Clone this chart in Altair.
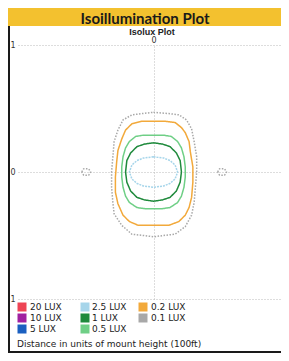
import altair as alt
import pandas as pd

# ---- levels, colours and line styles ----
levels = ["20 LUX", "10 LUX", "5 LUX", "2.5 LUX", "1 LUX", "0.5 LUX", "0.2 LUX", "0.1 LUX"]
colors = ["#ee4455", "#a020a0", "#1a5fc0", "#a6d5ea", "#1f8a3c", "#6fcf86", "#f2a93b", "#a8a8a8"]
widths = [1.5, 1.5, 1.5, 1.0, 2.2, 1.6, 1.6, 1.0]
dashes = [[1, 0], [1, 0], [1, 0], [2, 1], [1, 0], [1, 0], [1, 0], [1.5, 1.5]]

# ---- contour traces (units of mount height) ----
gray_x = [0, .12, .20, .26, .30, .32, .34, .34, .33, .32, .30, .25, .17, .08, 0, -.08, -.17, -.25, -.31, -.32, -.33, -.33, -.32, -.31, -.28, -.24, -.17, -.09]
gray_y = [.47, .46, .45, .41, .34, .24, .12, 0, -.12, -.24, -.34, -.43, -.49, -.50, -.51, -.50, -.49, -.42, -.33, -.24, -.12, 0, .12, .24, .33, .41, .45, .46]

blobL_x = [-.565, -.55, -.51, -.495, -.51, -.55]
blobL_y = [0, .025, .025, 0, -.025, -.025]
blobR_x = [.505, .52, .56, .575, .56, .52]
blobR_y = [0, .025, .025, 0, -.025, -.025]

orange_x = [0, .09, .17, .22, .25, .28, .29, .31, .31, .30, .28, .25, .20, .12, 0, -.12, -.19, -.24, -.28, -.30, -.30, -.29, -.28, -.25, -.22, -.17, -.09]
orange_y = [.40, .40, .39, .35, .31, .24, .16, .04, -.08, -.20, -.28, -.34, -.39, -.42, -.42, -.42, -.39, -.34, -.25, -.16, -.04, .08, .17, .26, .33, .38, .40]

lgreen_x = [0, .08, .14, .19, .22, .24, .25, .25, .24, .22, .19, .13, .06, 0, -.06, -.13, -.19, -.22, -.24, -.25, -.25, -.24, -.22, -.19, -.14, -.08]
lgreen_y = [.29, .29, .28, .24, .19, .12, .04, -.04, -.12, -.19, -.24, -.28, -.29, -.29, -.29, -.28, -.24, -.19, -.12, -.04, .04, .12, .19, .24, .28, .29]

dgreen_x = [0, .07, .13, .18, .21, .22, .21, .18, .13, .07, 0, -.07, -.13, -.18, -.21, -.22, -.21, -.18, -.13, -.07]
dgreen_y = [.23, .22, .20, .15, .09, 0, -.08, -.15, -.20, -.22, -.23, -.22, -.20, -.15, -.08, 0, .09, .15, .20, .22]

lblue_x = [0, .08, .13, .17, .19, .17, .13, .08, 0, -.08, -.13, -.17, -.19, -.17, -.13, -.08]
lblue_y = [.12, .11, .09, .055, 0, -.055, -.09, -.11, -.12, -.11, -.09, -.055, 0, .055, .09, .11]

traces = [
    ("0.1 LUX", "g", gray_x, gray_y),
    ("0.1 LUX", "gl", blobL_x, blobL_y),
    ("0.1 LUX", "gr", blobR_x, blobR_y),
    ("0.2 LUX", "o", orange_x, orange_y),
    ("0.5 LUX", "lg", lgreen_x, lgreen_y),
    ("1 LUX", "dg", dgreen_x, dgreen_y),
    ("2.5 LUX", "lb", lblue_x, lblue_y),
]

rows = []
for level, cid, xs, ys in traces:
    pts = list(zip(xs, ys)) + [(xs[0], ys[0])]
    for i, (x, y) in enumerate(pts):
        rows.append({"level": level, "cid": cid, "i": i, "x": x, "y": y})
df = pd.DataFrame(rows)

title_text = ["Isoillumination Plot"]
subtitle_text = ["Isolux Plot"]
xlabel_text = ["Distance in units of mount height (100ft)"]

W, H = 263, 254

lines = alt.Chart(df).mark_line(strokeJoin="round").encode(
    x=alt.X("x:Q", scale=alt.Scale(domain=[-1.067, 1.004], nice=False, zero=False),
            axis=alt.Axis(orient="top", values=[0], title=None, ticks=False, domain=False,
                          labelFontSize=8, labelFont="DejaVu Sans", labelColor="#333",
                          labelPadding=1, gridDash=[1, 2], gridColor="#bbbbbb")),
    y=alt.Y("y:Q", scale=alt.Scale(domain=[-1, 1], nice=False, zero=False),
            axis=alt.Axis(values=[1, 0, -1], title=None, ticks=False, domain=False,
                          labelExpr="format(abs(datum.value), 'd')",
                          labelFontSize=8, labelFont="DejaVu Sans", labelColor="#333",
                          labelPadding=3, gridDash=[1, 2], gridColor="#bbbbbb")),
    stroke=alt.Stroke("level:N", scale=alt.Scale(domain=levels, range=colors), legend=None),
    strokeWidth=alt.StrokeWidth("level:N", scale=alt.Scale(domain=levels, range=widths), legend=None),
    strokeDash=alt.StrokeDash("level:N", scale=alt.Scale(domain=levels, range=dashes), legend=None),
    detail="cid:N",
    order="i:Q",
)

# ---- legend drawn as layout (3 columns, column-major) ----
col_sym = [4, 67, 125]
col_txt = [12, 74, 133]
row_y = [262, 273, 284]
legend_layers = []
for k, (lab, col) in enumerate(zip(levels, colors)):
    c, r = k // 3, k % 3
    d = pd.DataFrame({"t": [lab]})
    legend_layers.append(
        alt.Chart(d).mark_square(size=81, filled=True, opacity=1, color=col).encode(
            x=alt.value(col_sym[c]), y=alt.value(row_y[r])))
    legend_layers.append(
        alt.Chart(d).mark_text(font="DejaVu Sans", fontSize=9, color="#222", align="left",
                               baseline="middle").encode(
            x=alt.value(col_txt[c]), y=alt.value(row_y[r]), text="t:N"))

one = pd.DataFrame({"t": title_text})
band = alt.Chart(one).mark_rect(color="#f3c12f").encode(
    x=alt.value(-10), x2=alt.value(263), y=alt.value(-37), y2=alt.value(-19))
title = alt.Chart(one).mark_text(font="Lato", fontWeight="bold", fontSize=15, color="#1a1a1a",
                                 baseline="alphabetic").encode(
    x=alt.value(127), y=alt.value(-21.5), text="t:N")
sub = alt.Chart(pd.DataFrame({"t": subtitle_text})).mark_text(
    font="Liberation Sans", fontWeight="bold", fontSize=9, color="#222").encode(
    x=alt.value(134), y=alt.value(-13.5), text="t:N")
xlab = alt.Chart(pd.DataFrame({"t": xlabel_text})).mark_text(
    font="DejaVu Sans", fontSize=9, color="#222", align="left").encode(
    x=alt.value(-1), y=alt.value(299), text="t:N")
left_border = alt.Chart(one).mark_rule(color="#1a1a1a", strokeWidth=2).encode(
    x=alt.value(-9), y=alt.value(-19), y2=alt.value(307))
bottom_border = alt.Chart(one).mark_rule(color="#1a1a1a", strokeWidth=2).encode(
    x=alt.value(-10), x2=alt.value(263), y=alt.value(307))

chart = alt.layer(lines, band, title, sub, xlab, left_border, bottom_border,
                  *legend_layers).properties(
    width=W, height=H,
    autosize=alt.AutoSizeParams(type="none"),
    padding={"left": 10, "top": 37, "right": 0, "bottom": 54},
    background="white",
).configure_view(stroke=None)

chart.save("out.html", embed_options={"renderer": "svg", "actions": False})
